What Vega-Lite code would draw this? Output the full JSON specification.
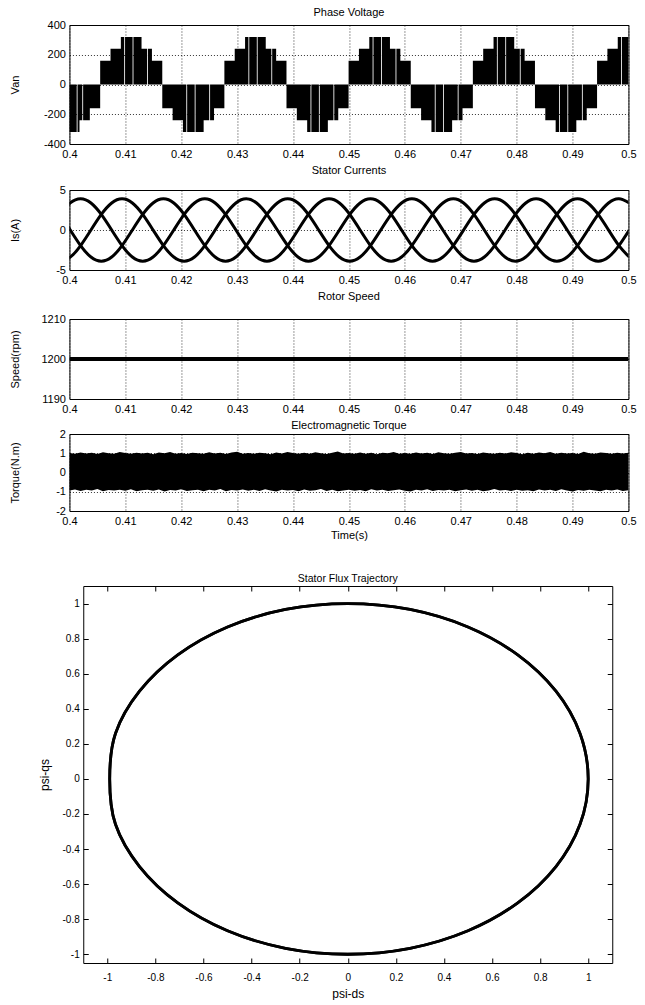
{
  "$schema": "https://vega.github.io/schema/vega-lite/v6.json",
  "background": "white",
  "padding": {"left": 8, "top": 6, "right": 0, "bottom": 0},
  "config": {
    "font": "Liberation Sans",
    "view": {"stroke": "#000", "strokeWidth": 1},
    "title": {"font": "Liberation Sans", "fontSize": 11, "fontWeight": "normal", "color": "#000"},
    "axis": {
      "domain": false, "ticks": false, "grid": true,
      "gridColor": "#000", "gridDash": [1, 2], "gridWidth": 0.8, "gridOpacity": 1,
      "labelFont": "Liberation Sans", "labelFontSize": 11, "labelColor": "#000",
      "labelPadding": 4, "labelFlush": false, "labelOverlap": false,
      "titleFont": "Liberation Sans", "titleFontSize": 11, "titleFontWeight": "normal", "titleColor": "#000"
    },
    "axisY": {"minExtent": 36, "maxExtent": 36, "titlePadding": 13}
  },
  "datasets": {
    "voltage": [
      {"t":0.4,"v":-320},{"t":0.4013,"v":0},{"t":0.40145,"v":-320},{"t":0.4018,"v":-240},{"t":0.4023,"v":0},{"t":0.40245,"v":-240},{"t":0.40365,"v":-160},
      {"t":0.4055,"v":160},{"t":0.40735,"v":240},{"t":0.4092,"v":320},{"t":0.4098,"v":0},{"t":0.40995,"v":320},{"t":0.4113,"v":0},{"t":0.41145,"v":320},{"t":0.4129,"v":240},{"t":0.4139,"v":0},{"t":0.41405,"v":240},{"t":0.41476,"v":160},
      {"t":0.41661,"v":-160},{"t":0.41846,"v":-240},{"t":0.42031,"v":-320},{"t":0.42091,"v":0},{"t":0.42106,"v":-320},{"t":0.42241,"v":0},{"t":0.42256,"v":-320},{"t":0.42401,"v":-240},{"t":0.42501,"v":0},{"t":0.42516,"v":-240},{"t":0.42587,"v":-160},
      {"t":0.42772,"v":160},{"t":0.42957,"v":240},{"t":0.43142,"v":320},{"t":0.43202,"v":0},{"t":0.43217,"v":320},{"t":0.43352,"v":0},{"t":0.43367,"v":320},{"t":0.43512,"v":240},{"t":0.43612,"v":0},{"t":0.43627,"v":240},{"t":0.43698,"v":160},
      {"t":0.43883,"v":-160},{"t":0.44068,"v":-240},{"t":0.44253,"v":-320},{"t":0.44313,"v":0},{"t":0.44328,"v":-320},{"t":0.44463,"v":0},{"t":0.44478,"v":-320},{"t":0.44623,"v":-240},{"t":0.44723,"v":0},{"t":0.44738,"v":-240},{"t":0.44809,"v":-160},
      {"t":0.44994,"v":160},{"t":0.45179,"v":240},{"t":0.45364,"v":320},{"t":0.45424,"v":0},{"t":0.45439,"v":320},{"t":0.45574,"v":0},{"t":0.45589,"v":320},{"t":0.45734,"v":240},{"t":0.45834,"v":0},{"t":0.45849,"v":240},{"t":0.4592,"v":160},
      {"t":0.46106,"v":-160},{"t":0.46291,"v":-240},{"t":0.46476,"v":-320},{"t":0.46536,"v":0},{"t":0.46551,"v":-320},{"t":0.46686,"v":0},{"t":0.46701,"v":-320},{"t":0.46846,"v":-240},{"t":0.46946,"v":0},{"t":0.46961,"v":-240},{"t":0.47032,"v":-160},
      {"t":0.47217,"v":160},{"t":0.47402,"v":240},{"t":0.47587,"v":320},{"t":0.47647,"v":0},{"t":0.47662,"v":320},{"t":0.47797,"v":0},{"t":0.47812,"v":320},{"t":0.47957,"v":240},{"t":0.48057,"v":0},{"t":0.48072,"v":240},{"t":0.48143,"v":160},
      {"t":0.48328,"v":-160},{"t":0.48513,"v":-240},{"t":0.48698,"v":-320},{"t":0.48758,"v":0},{"t":0.48773,"v":-320},{"t":0.48908,"v":0},{"t":0.48923,"v":-320},{"t":0.49068,"v":-240},{"t":0.49168,"v":0},{"t":0.49183,"v":-240},{"t":0.49254,"v":-160},
      {"t":0.49439,"v":160},{"t":0.49624,"v":240},{"t":0.49809,"v":320},{"t":0.49869,"v":0},{"t":0.49884,"v":320},{"t":0.5,"v":320}
    ],
    "currents": [
      {"t":0.3983,"ia":1.95,"ib":-3.9,"ic":1.95},
      {"t":0.40015,"ia":3.38,"ib":-3.38,"ic":0},
      {"t":0.402,"ia":3.9,"ib":-1.95,"ic":-1.95},
      {"t":0.40385,"ia":3.38,"ib":0,"ic":-3.38},
      {"t":0.4057,"ia":1.95,"ib":1.95,"ic":-3.9},
      {"t":0.40756,"ia":0,"ib":3.38,"ic":-3.38},
      {"t":0.40941,"ia":-1.95,"ib":3.9,"ic":-1.95},
      {"t":0.41126,"ia":-3.38,"ib":3.38,"ic":0},
      {"t":0.41311,"ia":-3.9,"ib":1.95,"ic":1.95},
      {"t":0.41496,"ia":-3.38,"ib":0,"ic":3.38},
      {"t":0.41681,"ia":-1.95,"ib":-1.95,"ic":3.9},
      {"t":0.41867,"ia":0,"ib":-3.38,"ic":3.38},
      {"t":0.42052,"ia":1.95,"ib":-3.9,"ic":1.95},
      {"t":0.42237,"ia":3.38,"ib":-3.38,"ic":0},
      {"t":0.42422,"ia":3.9,"ib":-1.95,"ic":-1.95},
      {"t":0.42607,"ia":3.38,"ib":0,"ic":-3.38},
      {"t":0.42793,"ia":1.95,"ib":1.95,"ic":-3.9},
      {"t":0.42978,"ia":0,"ib":3.38,"ic":-3.38},
      {"t":0.43163,"ia":-1.95,"ib":3.9,"ic":-1.95},
      {"t":0.43348,"ia":-3.38,"ib":3.38,"ic":0},
      {"t":0.43533,"ia":-3.9,"ib":1.95,"ic":1.95},
      {"t":0.43719,"ia":-3.38,"ib":0,"ic":3.38},
      {"t":0.43904,"ia":-1.95,"ib":-1.95,"ic":3.9},
      {"t":0.44089,"ia":0,"ib":-3.38,"ic":3.38},
      {"t":0.44274,"ia":1.95,"ib":-3.9,"ic":1.95},
      {"t":0.44459,"ia":3.38,"ib":-3.38,"ic":0},
      {"t":0.44644,"ia":3.9,"ib":-1.95,"ic":-1.95},
      {"t":0.4483,"ia":3.38,"ib":0,"ic":-3.38},
      {"t":0.45015,"ia":1.95,"ib":1.95,"ic":-3.9},
      {"t":0.452,"ia":0,"ib":3.38,"ic":-3.38},
      {"t":0.45385,"ia":-1.95,"ib":3.9,"ic":-1.95},
      {"t":0.4557,"ia":-3.38,"ib":3.38,"ic":0},
      {"t":0.45756,"ia":-3.9,"ib":1.95,"ic":1.95},
      {"t":0.45941,"ia":-3.38,"ib":0,"ic":3.38},
      {"t":0.46126,"ia":-1.95,"ib":-1.95,"ic":3.9},
      {"t":0.46311,"ia":0,"ib":-3.38,"ic":3.38},
      {"t":0.46496,"ia":1.95,"ib":-3.9,"ic":1.95},
      {"t":0.46681,"ia":3.38,"ib":-3.38,"ic":0},
      {"t":0.46867,"ia":3.9,"ib":-1.95,"ic":-1.95},
      {"t":0.47052,"ia":3.38,"ib":0,"ic":-3.38},
      {"t":0.47237,"ia":1.95,"ib":1.95,"ic":-3.9},
      {"t":0.47422,"ia":0,"ib":3.38,"ic":-3.38},
      {"t":0.47607,"ia":-1.95,"ib":3.9,"ic":-1.95},
      {"t":0.47793,"ia":-3.38,"ib":3.38,"ic":0},
      {"t":0.47978,"ia":-3.9,"ib":1.95,"ic":1.95},
      {"t":0.48163,"ia":-3.38,"ib":0,"ic":3.38},
      {"t":0.48348,"ia":-1.95,"ib":-1.95,"ic":3.9},
      {"t":0.48533,"ia":0,"ib":-3.38,"ic":3.38},
      {"t":0.48719,"ia":1.95,"ib":-3.9,"ic":1.95},
      {"t":0.48904,"ia":3.38,"ib":-3.38,"ic":0},
      {"t":0.49089,"ia":3.9,"ib":-1.95,"ic":-1.95},
      {"t":0.49274,"ia":3.38,"ib":0,"ic":-3.38},
      {"t":0.49459,"ia":1.95,"ib":1.95,"ic":-3.9},
      {"t":0.49644,"ia":0,"ib":3.38,"ic":-3.38},
      {"t":0.4983,"ia":-1.95,"ib":3.9,"ic":-1.95},
      {"t":0.50015,"ia":-3.38,"ib":3.38,"ic":0}
    ],
    "speed": [
      {"t":0.4,"n":1200},{"t":0.41,"n":1200},{"t":0.42,"n":1200},{"t":0.43,"n":1200},{"t":0.44,"n":1200},{"t":0.45,"n":1200},
      {"t":0.46,"n":1200},{"t":0.47,"n":1200},{"t":0.48,"n":1200},{"t":0.49,"n":1200},{"t":0.5,"n":1200}
    ],
    "torque": [
      {"t":0.4,"lo":-0.93,"hi":1.01},{"t":0.401,"lo":-0.88,"hi":0.97},{"t":0.402,"lo":-0.96,"hi":1.04},{"t":0.403,"lo":-0.9,"hi":0.99},{"t":0.404,"lo":-0.94,"hi":1.02},
      {"t":0.405,"lo":-0.86,"hi":0.96},{"t":0.406,"lo":-0.98,"hi":1.05},{"t":0.407,"lo":-0.91,"hi":1.0},{"t":0.408,"lo":-0.93,"hi":0.98},{"t":0.409,"lo":-0.89,"hi":1.07},
      {"t":0.41,"lo":-0.95,"hi":1.01},{"t":0.411,"lo":-0.87,"hi":0.97},{"t":0.412,"lo":-0.97,"hi":1.03},{"t":0.413,"lo":-0.92,"hi":0.99},{"t":0.414,"lo":-0.9,"hi":1.02},
      {"t":0.415,"lo":-0.95,"hi":0.95},{"t":0.416,"lo":-0.88,"hi":1.04},{"t":0.417,"lo":-0.99,"hi":1.0},{"t":0.418,"lo":-0.91,"hi":1.06},{"t":0.419,"lo":-0.94,"hi":0.98},
      {"t":0.42,"lo":-0.87,"hi":1.01},{"t":0.421,"lo":-0.96,"hi":0.96},{"t":0.422,"lo":-0.92,"hi":1.03},{"t":0.423,"lo":-0.89,"hi":1.0},{"t":0.424,"lo":-0.97,"hi":0.97},
      {"t":0.425,"lo":-0.9,"hi":1.05},{"t":0.426,"lo":-0.94,"hi":0.99},{"t":0.427,"lo":-0.86,"hi":1.02},{"t":0.428,"lo":-0.98,"hi":0.96},{"t":0.429,"lo":-0.91,"hi":1.04},
      {"t":0.43,"lo":-0.93,"hi":1.08},{"t":0.431,"lo":-0.88,"hi":0.98},{"t":0.432,"lo":-0.95,"hi":1.01},{"t":0.433,"lo":-0.9,"hi":0.97},{"t":0.434,"lo":-0.96,"hi":1.03},
      {"t":0.435,"lo":-0.87,"hi":1.0},{"t":0.436,"lo":-0.93,"hi":0.95},{"t":0.437,"lo":-0.99,"hi":1.04},{"t":0.438,"lo":-0.89,"hi":0.99},{"t":0.439,"lo":-0.94,"hi":1.06},
      {"t":0.44,"lo":-0.91,"hi":1.01},{"t":0.441,"lo":-0.97,"hi":0.97},{"t":0.442,"lo":-0.88,"hi":1.03},{"t":0.443,"lo":-0.95,"hi":0.98},{"t":0.444,"lo":-0.92,"hi":1.05},
      {"t":0.445,"lo":-0.86,"hi":1.0},{"t":0.446,"lo":-0.96,"hi":0.96},{"t":0.447,"lo":-0.9,"hi":1.02},{"t":0.448,"lo":-0.98,"hi":1.09},{"t":0.449,"lo":-0.93,"hi":0.99},
      {"t":0.45,"lo":-0.89,"hi":1.01},{"t":0.451,"lo":-0.95,"hi":0.97},{"t":0.452,"lo":-0.91,"hi":1.04},{"t":0.453,"lo":-0.97,"hi":0.98},{"t":0.454,"lo":-0.87,"hi":1.02},
      {"t":0.455,"lo":-0.94,"hi":0.95},{"t":0.456,"lo":-0.9,"hi":1.03},{"t":0.457,"lo":-0.96,"hi":1.0},{"t":0.458,"lo":-0.92,"hi":1.06},{"t":0.459,"lo":-0.88,"hi":0.98},
      {"t":0.46,"lo":-0.95,"hi":1.01},{"t":0.461,"lo":-0.99,"hi":0.97},{"t":0.462,"lo":-0.9,"hi":1.04},{"t":0.463,"lo":-0.93,"hi":0.99},{"t":0.464,"lo":-0.87,"hi":1.02},
      {"t":0.465,"lo":-0.96,"hi":0.96},{"t":0.466,"lo":-0.91,"hi":1.05},{"t":0.467,"lo":-0.94,"hi":1.0},{"t":0.468,"lo":-0.89,"hi":0.98},{"t":0.469,"lo":-0.97,"hi":1.03},
      {"t":0.47,"lo":-0.92,"hi":1.07},{"t":0.471,"lo":-0.88,"hi":0.99},{"t":0.472,"lo":-0.95,"hi":1.01},{"t":0.473,"lo":-0.9,"hi":0.96},{"t":0.474,"lo":-0.98,"hi":1.04},
      {"t":0.475,"lo":-0.93,"hi":1.0},{"t":0.476,"lo":-0.86,"hi":0.97},{"t":0.477,"lo":-0.94,"hi":1.03},{"t":0.478,"lo":-0.91,"hi":0.99},{"t":0.479,"lo":-0.96,"hi":1.05},
      {"t":0.48,"lo":-0.89,"hi":1.01},{"t":0.481,"lo":-0.95,"hi":0.95},{"t":0.482,"lo":-0.92,"hi":1.02},{"t":0.483,"lo":-0.97,"hi":0.98},{"t":0.484,"lo":-0.88,"hi":1.04},
      {"t":0.485,"lo":-0.93,"hi":1.0},{"t":0.486,"lo":-0.9,"hi":1.06},{"t":0.487,"lo":-0.96,"hi":0.97},{"t":0.488,"lo":-0.87,"hi":1.03},{"t":0.489,"lo":-0.94,"hi":0.99},
      {"t":0.49,"lo":-0.99,"hi":1.01},{"t":0.491,"lo":-0.91,"hi":0.96},{"t":0.492,"lo":-0.95,"hi":1.08},{"t":0.493,"lo":-0.89,"hi":1.0},{"t":0.494,"lo":-0.93,"hi":0.98},
      {"t":0.495,"lo":-0.97,"hi":1.04},{"t":0.496,"lo":-0.9,"hi":1.01},{"t":0.497,"lo":-0.94,"hi":0.97},{"t":0.498,"lo":-0.88,"hi":1.03},{"t":0.499,"lo":-0.96,"hi":0.99},
      {"t":0.5,"lo":-0.92,"hi":1.02}
    ],
    "flux": [
      {"i":0,"x":1,"y":0},{"i":1,"x":0.966,"y":0.259},{"i":2,"x":0.866,"y":0.5},{"i":3,"x":0.707,"y":0.707},
      {"i":4,"x":0.5,"y":0.866},{"i":5,"x":0.259,"y":0.966},{"i":6,"x":0,"y":1},{"i":7,"x":-0.259,"y":0.966},
      {"i":8,"x":-0.5,"y":0.866},{"i":9,"x":-0.707,"y":0.707},{"i":10,"x":-0.866,"y":0.5},{"i":11,"x":-0.966,"y":0.259},
      {"i":12,"x":-0.99,"y":0},{"i":13,"x":-0.966,"y":-0.259},{"i":14,"x":-0.866,"y":-0.5},{"i":15,"x":-0.707,"y":-0.707},
      {"i":16,"x":-0.5,"y":-0.866},{"i":17,"x":-0.259,"y":-0.966},{"i":18,"x":0,"y":-1},{"i":19,"x":0.259,"y":-0.966},
      {"i":20,"x":0.5,"y":-0.866},{"i":21,"x":0.707,"y":-0.707},{"i":22,"x":0.866,"y":-0.5},{"i":23,"x":0.966,"y":-0.259}
    ]
  },
  "center": true,
  "spacing": 32,
  "vconcat": [
    {
      "spacing": 4,
      "vconcat": [
        {
          "width": 559, "height": 119,
          "title": {"text": "Phase Voltage", "offset": 1},
          "data": {"name": "voltage"},
          "mark": {"type": "area", "interpolate": "step-after", "color": "#000", "clip": true},
          "encoding": {
            "x": {"field": "t", "type": "quantitative", "title": null,
                  "scale": {"domain": [0.4, 0.5], "nice": false, "zero": false},
                  "axis": {"values": [0.4,0.41,0.42,0.43,0.44,0.45,0.46,0.47,0.48,0.49,0.5], "labelExpr": "'' + datum.value"}},
            "y": {"field": "v", "type": "quantitative", "title": "Van",
                  "scale": {"domain": [-400, 400], "nice": false},
                  "axis": {"values": [-400,-200,0,200,400], "labelExpr": "'' + datum.value"}},
            "y2": {"datum": 0}
          }
        },
        {
          "width": 559, "height": 80,
          "title": {"text": "Stator Currents", "offset": 8.5},
          "data": {"name": "currents"},
          "transform": [{"fold": ["ia", "ib", "ic"], "as": ["phase", "i"]}],
          "mark": {"type": "line", "interpolate": "natural", "color": "#000", "strokeWidth": 3, "clip": true},
          "encoding": {
            "x": {"field": "t", "type": "quantitative", "title": null,
                  "scale": {"domain": [0.4, 0.5], "nice": false, "zero": false},
                  "axis": {"values": [0.4,0.41,0.42,0.43,0.44,0.45,0.46,0.47,0.48,0.49,0.5], "labelExpr": "'' + datum.value"}},
            "y": {"field": "i", "type": "quantitative", "title": "Is(A)",
                  "scale": {"domain": [-5, 5], "nice": false},
                  "axis": {"values": [-5,0,5], "labelExpr": "'' + datum.value"}},
            "detail": {"field": "phase", "type": "nominal"}
          }
        },
        {
          "width": 559, "height": 80,
          "title": {"text": "Rotor Speed", "offset": 11.5},
          "data": {"name": "speed"},
          "mark": {"type": "line", "color": "#000", "strokeWidth": 3.8, "clip": true},
          "encoding": {
            "x": {"field": "t", "type": "quantitative", "title": null,
                  "scale": {"domain": [0.4, 0.5], "nice": false, "zero": false},
                  "axis": {"values": [0.4,0.41,0.42,0.43,0.44,0.45,0.46,0.47,0.48,0.49,0.5], "labelExpr": "'' + datum.value"}},
            "y": {"field": "n", "type": "quantitative", "title": "Speed(rpm)",
                  "scale": {"domain": [1190, 1210], "nice": false, "zero": false},
                  "axis": {"values": [1190,1200,1210], "labelExpr": "'' + datum.value"}}
          }
        },
        {
          "width": 559, "height": 77,
          "title": {"text": "Electromagnetic Torque", "offset": -2.5},
          "data": {"name": "torque"},
          "mark": {"type": "area", "color": "#000", "clip": true},
          "encoding": {
            "x": {"field": "t", "type": "quantitative", "title": "Time(s)",
                  "scale": {"domain": [0.4, 0.5], "nice": false, "zero": false},
                  "axis": {"values": [0.4,0.41,0.42,0.43,0.44,0.45,0.46,0.47,0.48,0.49,0.5], "labelExpr": "'' + datum.value", "titlePadding": 3}},
            "y": {"field": "lo", "type": "quantitative", "title": "Torque(N.m)",
                  "scale": {"domain": [-2, 2], "nice": false},
                  "axis": {"values": [-2,-1,0,1,2], "labelExpr": "'' + datum.value"}},
            "y2": {"field": "hi"}
          }
        }
      ]
    },
    {
      "width": 529, "height": 377,
      "title": {"text": "Stator Flux Trajectory", "fontSize": 10.5, "offset": 1},
      "data": {"name": "flux"},
      "layer": [
        {
          "mark": {"type": "line", "interpolate": "cardinal-closed", "color": "#000", "strokeWidth": 2.8},
          "encoding": {
            "x": {"field": "x", "type": "quantitative", "title": "psi-ds",
                  "scale": {"domain": [-1.1, 1.1], "nice": false, "zero": false},
                  "axis": {"orient": "bottom", "values": [-1,-0.8,-0.6,-0.4,-0.2,0,0.2,0.4,0.6,0.8,1], "labelExpr": "'' + datum.value",
                           "grid": false, "ticks": true, "tickSize": -5, "tickColor": "#000", "labelPadding": 14, "labelFontSize": 10,
                           "titleFontSize": 12, "titlePadding": 6}},
            "y": {"field": "y", "type": "quantitative", "title": "psi-qs",
                  "scale": {"domain": [-1.05, 1.1], "nice": false, "zero": false},
                  "axis": {"orient": "left", "values": [-1,-0.8,-0.6,-0.4,-0.2,0,0.2,0.4,0.6,0.8,1], "labelExpr": "'' + datum.value",
                           "grid": false, "ticks": true, "tickSize": -5, "tickColor": "#000", "labelPadding": 9, "labelFontSize": 10,
                           "minExtent": 25, "maxExtent": 25, "titleFontSize": 12, "titlePadding": 7}},
            "order": {"field": "i", "type": "quantitative"}
          }
        },
        {
          "mark": {"type": "line", "interpolate": "cardinal-closed", "color": "#000", "strokeWidth": 2.8},
          "encoding": {
            "x": {"field": "x", "type": "quantitative", "title": null,
                  "scale": {"domain": [-1.1, 1.1], "nice": false, "zero": false},
                  "axis": {"orient": "top", "values": [-1,-0.8,-0.6,-0.4,-0.2,0,0.2,0.4,0.6,0.8,1], "labels": false,
                           "grid": false, "ticks": true, "tickSize": -5, "tickColor": "#000", "minExtent": 0, "maxExtent": 0}},
            "y": {"field": "y", "type": "quantitative", "title": null,
                  "scale": {"domain": [-1.05, 1.1], "nice": false, "zero": false},
                  "axis": {"orient": "right", "values": [-1,-0.8,-0.6,-0.4,-0.2,0,0.2,0.4,0.6,0.8,1], "labels": false,
                           "grid": false, "ticks": true, "tickSize": -5, "tickColor": "#000", "minExtent": 10, "maxExtent": 10}},
            "order": {"field": "i", "type": "quantitative"}
          }
        }
      ],
      "resolve": {"axis": {"x": "independent", "y": "independent"}}
    }
  ]
}
